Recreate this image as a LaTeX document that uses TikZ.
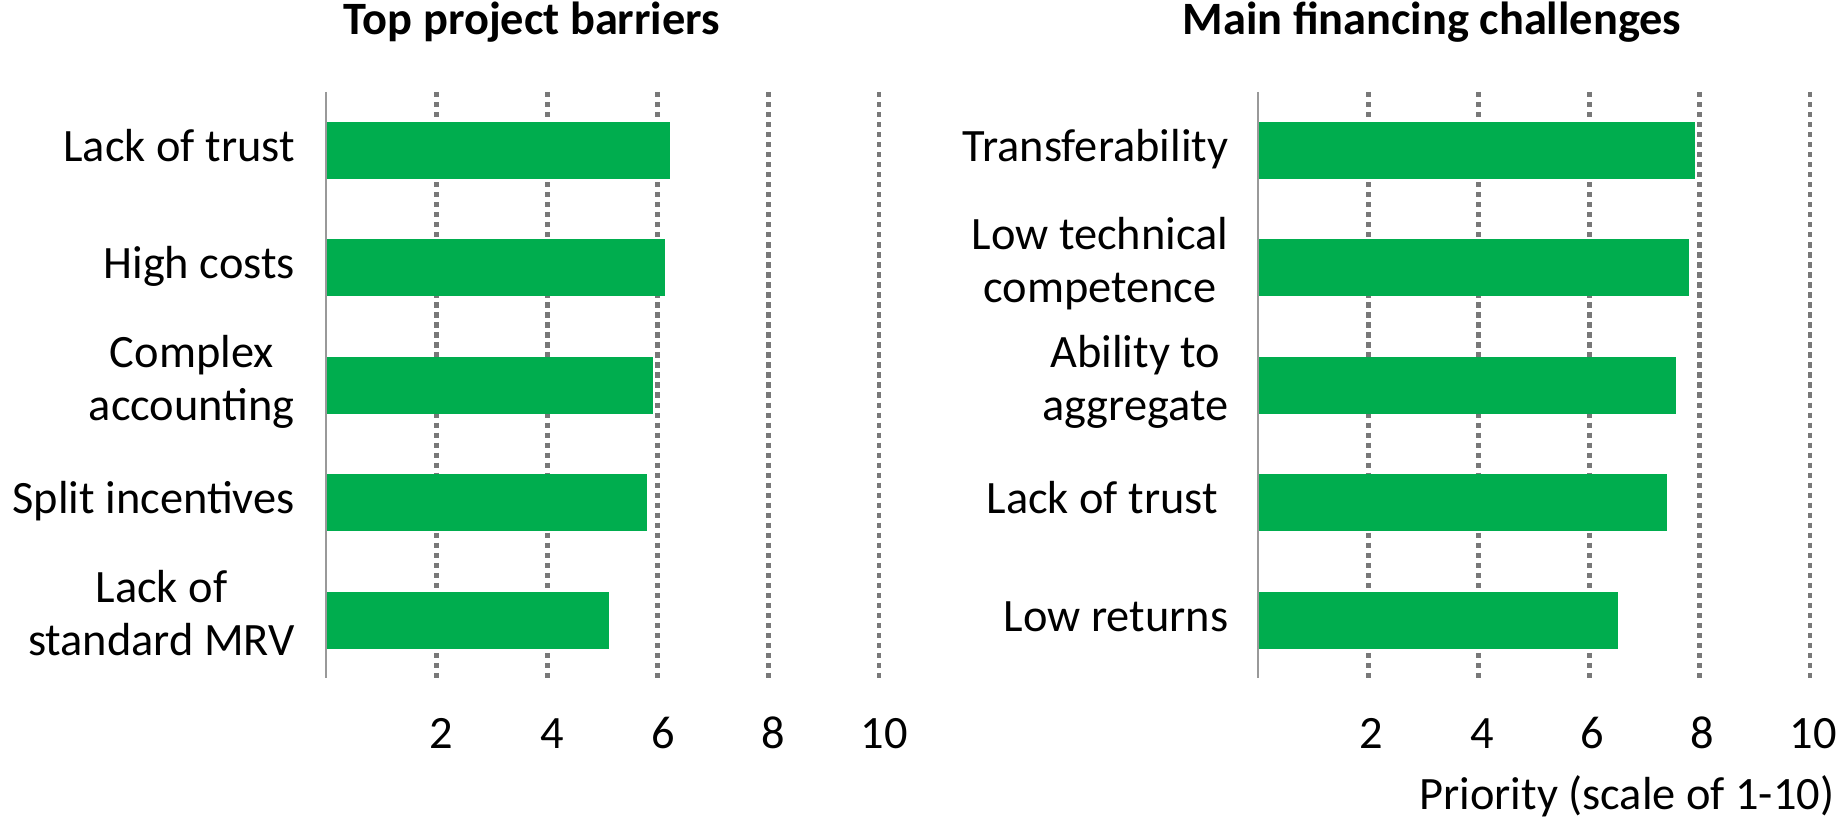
\documentclass[tikz,border=0pt]{standalone}
\usepackage{fontspec}
\setmainfont{Carlito}
\usepackage{tikz}
\usetikzlibrary{positioning,calc}
\definecolor{barvert}{RGB}{0,173,78}
\definecolor{grille}{RGB}{120,120,120}
\newcommand{\taille}{\fontsize{13.2}{15.1}\selectfont}
\tikzstyle{titre}=[font=\taille\bfseries, anchor=base, inner sep=0pt]
\tikzstyle{cat}=[align=center, anchor=east, inner sep=0pt,
execute at begin node=\strut, execute at end node=\strut]
\tikzstyle{tick}=[anchor=base, inner sep=0pt]
\tikzstyle{barre}=[fill=barvert]
\tikzstyle{grid}=[draw=grille, line width=1.35pt, dash pattern=on 1.5pt off 1.35pt]
\tikzstyle{axe}=[draw=black!40, line width=0.6pt]

\begin{document}
\begin{tikzpicture}[x=1cm,y=-1cm,font=\taille]
		\useasboundingbox (0,0) rectangle (18.42,8.21);
		
		% Titles
		\node[titre] (t1) at (5.32,0.35) {Top project barriers};
		\node[titre] (t2) at (14.32,0.35) {Main financing challenges};
		
		% Draw grid lines
		\foreach \g in {2,4,...,10} {
			\path[grid] (3.26+0.553*\g,0.92) -- (3.26+0.553*\g,6.78);
			\path[grid] (12.58+0.552*\g,0.92) -- (12.58+0.552*\g,6.78);
			\node[tick] (ta\g) at (3.31+0.553*\g,7.49) {\g};
			\node[tick] (tb\g) at (12.61+0.552*\g,7.49) {\g};
		}
		
		% Left bars
		\foreach \i/\v/\txt in {1/6.22/Lack of trust, 2/6.13/High costs,
			3/5.91/{Complex\\accounting}, 4/5.81/Split incentives,
			5/5.11/{Lack of\\standard MRV}} {
			\fill[barre] (3.26,0.045+1.175*\i) rectangle ++(0.553*\v,0.57);
			\node[cat] (a\i) at (2.955,0.33+1.175*\i) {\txt};
		}
		
		% Right bars
		\foreach \i/\v/\txt in {1/7.92/Transferability, 2/7.81/{Low technical\\competence},
			3/7.57/{Ability to\\aggregate}, 4/7.41/Lack of trust\ , 5/6.52/Low returns} {
			\fill[barre] (12.58,0.045+1.175*\i) rectangle ++(0.552*\v,0.57);
			\node[cat] (b\i) at (12.29,0.33+1.175*\i) {\txt};
		}
		
		% Axes
		\path[axe] (3.26,0.92) -- (3.26,6.78);
		\path[axe] (12.58,0.92) -- (12.58,6.78);
		
		\node[tick, anchor=base east] (prio) at (18.35,8.10) {Priority (scale of 1-10)};
\end{tikzpicture}
\end{document}
